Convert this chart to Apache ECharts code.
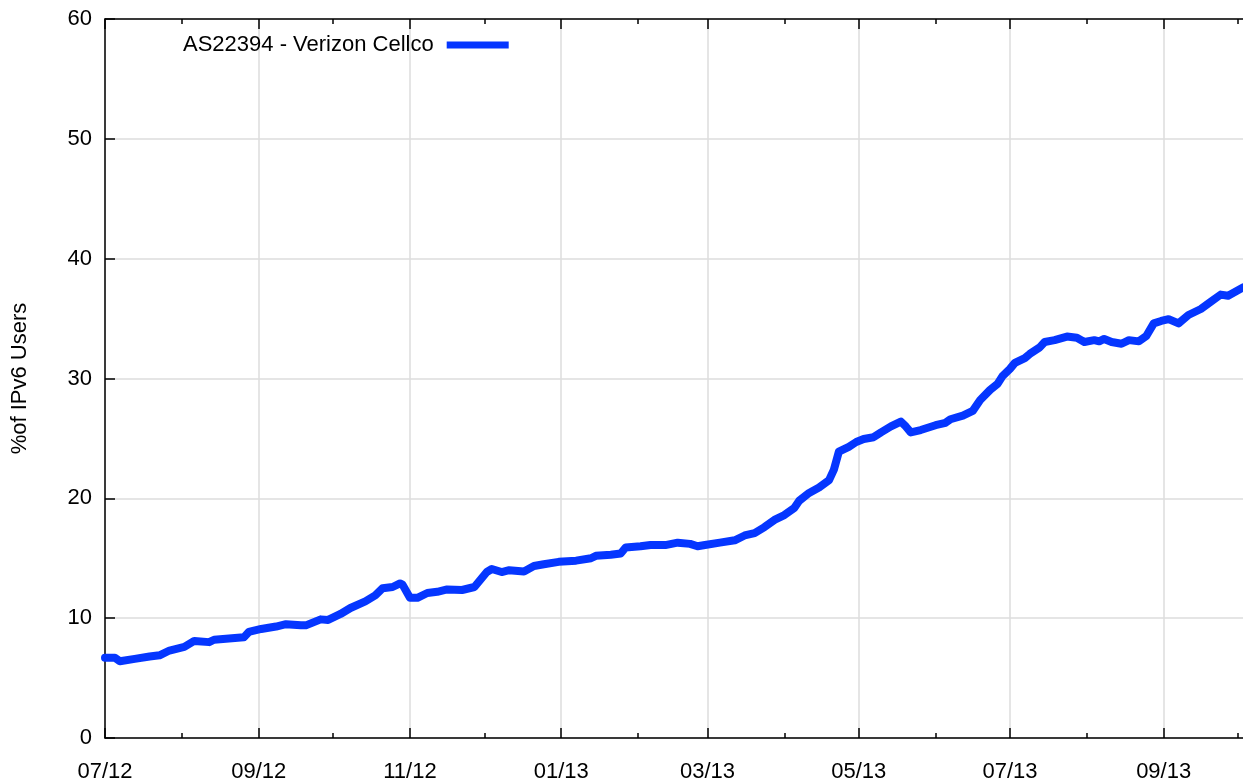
<!DOCTYPE html>
<html>
<head>
<meta charset="utf-8">
<script src="https://cdn.jsdelivr.net/npm/echarts@6/dist/echarts.min.js"></script>
<style>html,body{margin:0;padding:0;background:#fff}#c{width:1243px;height:782px}</style>
</head>
<body>
<div id="c"></div>
<script>
var seriesName = 'AS22394 - Verizon Cellco';
var dates = ['2012-07-01','2012-07-05','2012-07-07','2012-07-13','2012-07-19','2012-07-23','2012-07-27','2012-08-02','2012-08-06','2012-08-12','2012-08-14','2012-08-20','2012-08-26','2012-08-28','2012-09-02','2012-09-08','2012-09-12','2012-09-18','2012-09-20','2012-09-26','2012-09-29','2012-10-04','2012-10-08','2012-10-14','2012-10-18','2012-10-21','2012-10-25','2012-10-28','2012-10-29','2012-11-01','2012-11-04','2012-11-08','2012-11-12','2012-11-16','2012-11-22','2012-11-27','2012-11-29','2012-12-02','2012-12-04','2012-12-08','2012-12-11','2012-12-17','2012-12-21','2012-12-25','2012-12-31','2013-01-07','2013-01-13','2013-01-15','2013-01-21','2013-01-25','2013-01-27','2013-02-02','2013-02-06','2013-02-12','2013-02-17','2013-02-22','2013-02-25','2013-02-28','2013-03-06','2013-03-12','2013-03-16','2013-03-20','2013-03-24','2013-03-28','2013-04-01','2013-04-05','2013-04-07','2013-04-11','2013-04-15','2013-04-19','2013-04-21','2013-04-23','2013-04-27','2013-04-30','2013-05-03','2013-05-07','2013-05-10','2013-05-14','2013-05-18','2013-05-20','2013-05-22','2013-05-26','2013-06-01','2013-06-05','2013-06-07','2013-06-12','2013-06-16','2013-06-19','2013-06-23','2013-06-26','2013-06-28','2013-07-01','2013-07-03','2013-07-07','2013-07-09','2013-07-13','2013-07-15','2013-07-19','2013-07-24','2013-07-28','2013-07-31','2013-08-04','2013-08-06','2013-08-08','2013-08-11','2013-08-15','2013-08-18','2013-08-22','2013-08-25','2013-08-28','2013-08-31','2013-09-03','2013-09-07','2013-09-11','2013-09-16','2013-09-20','2013-09-24','2013-09-27','2013-10-03'];
var values = [6.7,6.7,6.4,6.6,6.8,6.9,7.3,7.6,8.1,8.0,8.2,8.3,8.4,8.85,9.1,9.3,9.5,9.4,9.4,9.9,9.85,10.35,10.85,11.4,11.9,12.5,12.6,12.9,12.8,11.7,11.7,12.1,12.2,12.4,12.35,12.6,13.1,13.85,14.1,13.85,14.0,13.9,14.35,14.5,14.7,14.8,15.0,15.2,15.3,15.4,15.9,16.0,16.1,16.1,16.3,16.2,16.0,16.1,16.3,16.5,16.9,17.1,17.6,18.2,18.6,19.2,19.8,20.45,20.9,21.5,22.4,23.9,24.3,24.7,24.95,25.1,25.5,26.0,26.4,26.0,25.5,25.7,26.1,26.3,26.6,26.9,27.3,28.2,29.05,29.55,30.2,30.8,31.3,31.7,32.05,32.6,33.05,33.2,33.5,33.4,33.05,33.2,33.1,33.3,33.05,32.9,33.2,33.1,33.55,34.6,34.8,34.95,34.6,35.3,35.8,36.4,37.0,36.9,37.6];
var majorTicks = ['2012-07-01','2012-09-01','2012-11-01','2013-01-01','2013-03-01','2013-05-01','2013-07-01','2013-09-01'];
var minorTicks = ['2012-08-01','2012-10-01','2012-12-01','2013-02-01','2013-04-01','2013-06-01','2013-08-01','2013-10-01'];
var xMin = '2012-07-01', xMax = '2013-10-03';
var yTicks = [0,10,20,30,40,50,60];

function ts(s){ var p = s.split('-'); return Date.UTC(+p[0], +p[1]-1, +p[2]); }
var majorTs = majorTicks.map(ts), minorTs = minorTicks.map(ts);
var data = dates.map(function(d,i){ return [ts(d), values[i]]; });
var font = 'Liberation Sans, Arial, sans-serif';
function fmt(v){ var d = new Date(v); var m = d.getUTCMonth()+1; var y = d.getUTCFullYear()%100; return (m<10?'0':'')+m+'/'+(y<10?'0':'')+y; }

function xa(pos, ticks, len, opts){
  return Object.assign({
    type:'value', position:pos, min:ts(xMin), max:ts(xMax), gridIndex:0,
    axisLine:{show:false},
    axisTick:{show:true, inside:true, length:len, customValues:ticks, lineStyle:{color:'#000', width:1.5}},
    axisLabel:{show:false},
    splitLine:{show:false}, minorTick:{show:false}
  }, opts||{});
}

var chart = echarts.init(document.getElementById('c'), null, {renderer:'canvas'});
chart.setOption({
  animation:false,
  backgroundColor:'#fff',
  grid:{left:105, top:19, right:0, bottom:44, containLabel:false, outerBoundsMode:'none'},
  legend:{
    show:true, left:183, top:34, padding:0, align:'right', icon:'rect', itemWidth:62, itemHeight:7,
    itemGap:0,
    textStyle:{fontFamily:font, fontSize:22, color:'#000', padding:[0,8,0,0]},
    data:[{name:seriesName, itemStyle:{color:'#0536ff'}}]
  },
  xAxis:[
    xa('bottom', majorTs, 10, {
      axisLine:{show:true, lineStyle:{color:'#000', width:1.5}},
      axisLabel:{show:true, customValues:majorTs, formatter:fmt, margin:23, fontFamily:font, fontSize:22, color:'#000'},
      splitLine:{show:true, lineStyle:{color:'#dcdcdc', width:1.5}}
    }),
    xa('bottom', minorTs, 5),
    xa('top', majorTs, 10, {axisLine:{show:true, lineStyle:{color:'#000', width:1.5}}}),
    xa('top', minorTs, 5)
  ],
  yAxis:[{
    type:'value', min:0, max:60, interval:10,
    name:'%of IPv6 Users', nameLocation:'middle', nameRotate:90, nameGap:74,
    nameTextStyle:{fontFamily:font, fontSize:22, color:'#000'},
    axisLine:{show:true, lineStyle:{color:'#000', width:1.5}},
    axisTick:{show:true, inside:true, length:10, lineStyle:{color:'#000', width:1.5}},
    axisLabel:{margin:13, fontFamily:font, fontSize:22, color:'#000'},
    splitLine:{show:true, lineStyle:{color:'#dcdcdc', width:1.5}}
  }],
  series:[{
    name:seriesName, type:'line', xAxisIndex:0, yAxisIndex:0, data:data,
    showSymbol:false, symbol:'none',
    lineStyle:{color:'#0536ff', width:8, join:'round', cap:'round'},
    itemStyle:{color:'#0536ff'}
  }]
});
</script>
</body>
</html>
